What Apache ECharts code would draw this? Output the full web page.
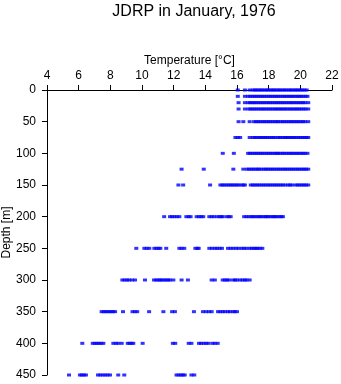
<!DOCTYPE html>
<html><head><meta charset="utf-8">
<script src="https://cdn.jsdelivr.net/npm/echarts@6/dist/echarts.min.js"></script>
<style>html,body{margin:0;padding:0;background:#fff}#c{width:341px;height:384px}</style>
</head><body><div id="c"></div>
<script>
const xTicks = [4, 6, 8, 10, 12, 14, 16, 18, 20, 22];
const yTicks = [0, 50, 100, 150, 200, 250, 300, 350, 400, 450];
const depths = [0, 10, 20, 30, 50, 75, 100, 125, 150, 200, 250, 300, 350, 400, 450];
const t0 = [16.05, 16.5, 16.8, 17.0, 17.13, 17.24, 17.37, 17.5, 17.61, 17.76, 17.88, 18.0, 18.14, 18.26, 18.37, 18.5, 18.63, 18.74, 18.88, 19.0, 19.12, 19.27, 19.38, 19.5, 19.64, 19.75, 19.87, 20.0, 20.13, 20.26, 20.4];
const t10 = [16.05, 16.5, 16.7, 16.84, 16.97, 17.1, 17.22, 17.35, 17.48, 17.6, 17.73, 17.86, 18.0, 18.12, 18.25, 18.38, 18.5, 18.63, 18.76, 18.9, 19.02, 19.15, 19.28, 19.4, 19.53, 19.66, 19.8, 19.92, 20.05, 20.18, 20.32, 20.45];
const t20 = [16.1, 16.5, 16.7, 16.83, 16.95, 17.08, 17.2, 17.34, 17.47, 17.6, 17.72, 17.85, 17.98, 18.1, 18.24, 18.37, 18.5, 18.62, 18.75, 18.88, 19.0, 19.14, 19.27, 19.4, 19.52, 19.65, 19.78, 19.9, 20.04, 20.17, 20.3, 20.5];
const t30 = [16.1, 16.5, 16.72, 16.85, 16.97, 17.1, 17.23, 17.36, 17.5, 17.62, 17.74, 17.87, 18.0, 18.13, 18.26, 18.4, 18.52, 18.65, 18.78, 18.9, 19.03, 19.16, 19.3, 19.42, 19.55, 19.68, 19.8, 19.93, 20.06, 20.2, 20.33, 20.5];
const t50 = [16.1, 16.4, 16.8, 17.07, 17.2, 17.33, 17.46, 17.6, 17.72, 17.85, 17.98, 18.1, 18.24, 18.37, 18.5, 18.6, 18.75, 18.88, 19.0, 19.14, 19.27, 19.4, 19.52, 19.65, 19.78, 19.9, 20.04, 20.17, 20.3, 20.5];
const t75 = [15.9, 16.05, 16.2, 16.8, 17.0, 17.13, 17.26, 17.4, 17.52, 17.65, 17.78, 17.9, 18.04, 18.17, 18.3, 18.43, 18.6, 18.72, 18.86, 19.0, 19.1, 19.22, 19.35, 19.48, 19.6, 19.74, 19.87, 20.0, 20.13, 20.26, 20.38, 20.5];
const t100 = [15.1, 15.8, 16.7, 16.83, 16.96, 17.1, 17.22, 17.35, 17.48, 17.6, 17.74, 17.87, 18.0, 18.13, 18.26, 18.4, 18.52, 18.6, 18.75, 18.88, 19.0, 19.14, 19.27, 19.4, 19.52, 19.65, 19.78, 19.9, 20.04, 20.17, 20.3, 20.45];
const t125 = [12.5, 13.9, 15.77, 16.4, 16.63, 16.76, 16.9, 17.03, 17.16, 17.3, 17.4, 17.55, 17.7, 17.83, 17.96, 18.1, 18.23, 18.36, 18.5, 18.63, 18.76, 18.9, 19.03, 19.16, 19.3, 19.43, 19.56, 19.7, 19.83, 19.96, 20.1, 20.23, 20.36, 20.5];
const t150 = [12.3, 12.6, 14.3, 14.95, 15.08, 15.2, 15.34, 15.47, 15.6, 15.72, 15.85, 15.98, 16.1, 16.27, 16.4, 16.5, 16.87, 17.0, 17.13, 17.27, 17.4, 17.55, 17.68, 17.82, 17.97, 18.1, 18.24, 18.37, 18.5, 18.63, 18.77, 18.9, 19.05, 19.22, 19.35, 19.48, 19.7, 19.83, 19.96, 20.1, 20.23, 20.36, 20.5];
const t200 = [11.4, 11.77, 11.9, 12.05, 12.2, 12.36, 12.8, 12.95, 13.07, 13.45, 13.6, 13.74, 13.87, 14.25, 14.4, 14.55, 14.76, 14.9, 15.02, 15.1, 15.35, 15.48, 15.6, 16.45, 16.6, 16.74, 16.9, 17.0, 17.13, 17.27, 17.4, 17.5, 17.64, 17.78, 17.87, 17.96, 18.1, 18.23, 18.34, 18.42, 18.55, 18.68, 18.8, 18.9];
const t250 = [9.64, 10.15, 10.3, 10.46, 10.78, 10.92, 11.05, 11.16, 11.53, 12.36, 12.5, 12.67, 13.37, 13.5, 13.58, 14.25, 14.42, 14.6, 14.74, 14.9, 15.05, 15.43, 15.6, 15.76, 15.94, 16.1, 16.3, 16.45, 16.6, 16.8, 16.94, 17.08, 17.2, 17.3, 17.45, 17.6];
const t300 = [8.76, 8.9, 9.05, 9.18, 9.37, 9.56, 10.19, 10.76, 10.9, 11.03, 11.14, 11.26, 11.4, 11.53, 11.65, 11.77, 11.98, 12.5, 12.9, 14.4, 14.6, 15.1, 15.24, 15.37, 15.5, 15.75, 15.88, 16.0, 16.2, 16.35, 16.5, 16.6, 16.8];
const t350 = [7.45, 7.58, 7.7, 7.82, 7.95, 8.06, 8.18, 8.3, 8.8, 9.4, 9.55, 9.7, 10.45, 11.35, 11.9, 12.08, 13.28, 13.85, 14.04, 14.23, 14.4, 14.8, 14.95, 15.1, 15.24, 15.43, 15.55, 15.75, 15.85, 16.0];
const t400 = [6.23, 6.89, 7.02, 7.15, 7.28, 7.42, 7.56, 8.19, 8.35, 8.5, 8.72, 9.1, 9.22, 9.34, 9.45, 10.04, 11.95, 12.1, 12.95, 13.12, 13.6, 13.73, 13.9, 14.05, 14.2, 14.45, 14.6, 14.78];
const t450 = [5.39, 6.08, 6.2, 6.33, 6.46, 7.22, 7.37, 7.52, 7.68, 7.82, 7.98, 8.5, 8.88, 12.18, 12.32, 12.46, 12.58, 12.7, 13.12, 13.3];
const temps = [t0, t10, t20, t30, t50, t75, t100, t125, t150, t200, t250, t300, t350, t400, t450];

const points = [];
depths.forEach((d, i) => temps[i].forEach(t => points.push([t, d])));

const FONT = 'Liberation Sans, Arial, Helvetica, sans-serif';
const chart = echarts.init(document.getElementById('c'), null, {renderer: 'canvas'});
chart.setOption({
  animation: false,
  backgroundColor: '#ffffff',
  title: {
    text: 'JDRP in January, 1976',
    left: 189, top: -1, textAlign: 'center',
    textStyle: {fontFamily: FONT, fontSize: 16, fontWeight: 'normal', color: '#000'}
  },
  grid: {left: 47, right: 9, top: 90, bottom: 9, containLabel: false, outerBoundsMode: 'none'},
  xAxis: {
    type: 'value', position: 'top', min: xTicks[0], max: xTicks[xTicks.length - 1], interval: 2,
    name: 'Temperature [°C]', nameLocation: 'middle', nameGap: 23, nameMoveOverlap: false,
    nameTextStyle: {fontFamily: FONT, fontSize: 12, color: '#000'},
    axisLine: {show: true, onZero: false, lineStyle: {color: '#000', width: 1}},
    axisTick: {show: true, inside: false, length: 5, lineStyle: {color: '#000'}},
    axisLabel: {fontFamily: FONT, fontSize: 12, color: '#000', margin: 8},
    splitLine: {show: false}
  },
  yAxis: {
    type: 'value', inverse: true, min: yTicks[0], max: yTicks[yTicks.length - 1], interval: 50,
    name: 'Depth [m]', nameLocation: 'middle', nameGap: 34, nameRotate: 90, nameMoveOverlap: false,
    nameTextStyle: {fontFamily: FONT, fontSize: 12, color: '#000'},
    axisLine: {show: true, onZero: false, lineStyle: {color: '#000', width: 1}},
    axisTick: {show: true, inside: false, length: 5, lineStyle: {color: '#000'}},
    axisLabel: {fontFamily: FONT, fontSize: 12, color: '#000', margin: 11},
    splitLine: {show: false}
  },
  series: [{
    type: 'scatter',
    data: points,
    symbol: 'rect',
    symbolSize: [4, 3],
    itemStyle: {color: '#0000ff'},
    silent: true
  }]
});
</script>
</body></html>
